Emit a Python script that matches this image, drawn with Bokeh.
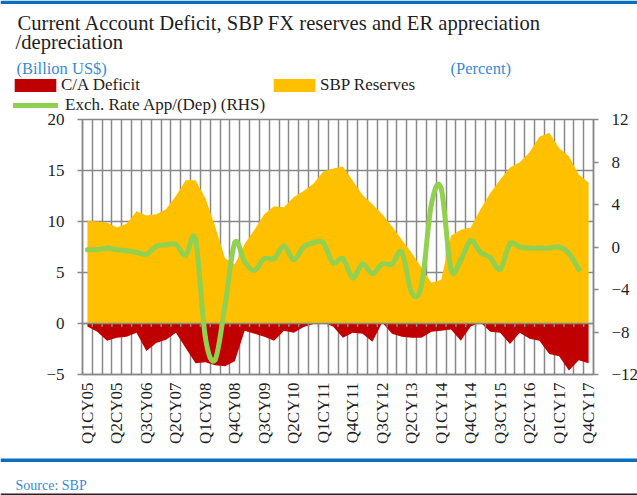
import math
from bokeh.plotting import figure
from bokeh.models import (Range1d, LinearAxis, FixedTicker, Label, Legend, LegendItem,
                          BoxAnnotation, ColumnDataSource, Grid)
from bokeh.embed import file_html
from bokeh.resources import INLINE

# ---------------- data ----------------
tick_labels = ["Q1CY05", "Q2CY05", "Q3CY06", "Q2CY07", "Q1CY08", "Q4CY08", "Q3CY09",
               "Q2CY10", "Q1CY11", "Q4CY11", "Q3CY12", "Q2CY13", "Q1CY14", "Q4CY14",
               "Q3CY15", "Q2CY16", "Q1CY17", "Q4CY17"]
tick_step = 3  # one label every third quarter

sbp_reserves = [10.1, 10.0, 9.9, 9.4, 9.8, 11.0, 10.6, 10.7, 11.2, 12.5,
                14.05, 14.05, 12.3, 9.5, 6.4, 5.8, 7.8, 9.2, 10.7, 11.5,
                11.4, 12.4, 13.0, 13.7, 14.9, 15.2, 15.4, 14.0, 12.6, 11.7,
                10.7, 9.5, 8.2, 6.9, 5.5, 4.0, 4.3, 8.6, 9.2, 9.4,
                11.2, 12.8, 14.1, 15.3, 15.8, 16.8, 18.3, 18.7, 17.2, 16.4,
                14.6, 13.8]

ca_deficit = [-0.3, -0.8, -1.7, -1.4, -1.3, -0.9, -2.7, -1.9, -1.6, -0.9,
              -2.4, -3.9, -3.8, -4.1, -4.2, -3.7, -0.7, -1.0, -1.3, -1.7,
              -0.7, -0.9, -0.35, -0.05, 0.1, -0.3, -1.4, -0.9, -1.0, -1.8,
              0.1, -1.0, -1.3, -1.4, -1.4, -0.8, -0.7, -0.6, -1.7, -0.3,
              0.1, -0.8, -0.9, -2.0, -0.9, -1.5, -1.7, -3.0, -3.2, -4.6,
              -3.6, -3.9]

er_change = [-0.25, -0.25, -0.1, -0.25, -0.35, -0.5, -0.7, 0.05, 0.2, 0.25,
             -0.8, 0.7, -8.5, -10.6, -5.5, 0.4, -1.4, -2.2, -1.1, -1.1,
             0.1, -1.2, 0.0, 0.4, 0.4, -1.5, -1.1, -2.9, -1.6, -2.5,
             -1.6, -1.6, -0.5, -4.3, -3.6, 4.0, 5.5, -2.1, -1.2, 0.6,
             -0.5, -1.0, -2.1, 0.3, 0.0, -0.1, -0.1, -0.1, 0.0, -0.6, -2.1]

left_ticks = [-5, 0, 5, 10, 15, 20]
right_ticks = [-12, -8, -4, 0, 4, 8, 12]

# ---------------- style / layout ----------------
FONT = "Liberation Serif"
GRID = "#888888"
TXT = "#1e1e1e"
BLUE_TXT = "#3a8ad4"
BLUE_LINE = "#0a6fc2"
RED = "#C00000"
YEL = "#FFC000"
GRN = "#92D050"

n = len(sbp_reserves)
W, H = 637, 495
# plot-area box in page pixels
PL, PR, PT, PB = 82, 593, 119, 374
LMIN, LMAX = left_ticks[0], left_ticks[-1]
RMIN, RMAX = right_ticks[0], right_ticks[-1]
XMIN, XMAX = -0.5, n - 0.5

xs_ = (PR - PL) / (XMAX - XMIN)
ly_ = (PB - PT) / (LMAX - LMIN)
ry_ = (PB - PT) / (RMAX - RMIN)

p = figure(width=W, height=H, output_backend="svg", toolbar_location=None, title=None,
           x_axis_location=None, y_axis_location=None, min_border=0,
           x_range=Range1d(XMIN - PL / xs_, XMAX + (W - PR) / xs_),
           y_range=Range1d(LMIN - (H - PB) / ly_, LMAX + PT / ly_))
p.extra_y_ranges = {"right": Range1d(RMIN - (H - PB) / ry_, RMAX + PT / ry_)}
p.outline_line_color = None
p.background_fill_color = "white"
p.border_fill_color = "white"
p.renderers = []
p.center = []

# ---------------- grids ----------------
bnd_all = [i - 0.5 for i in range(n + 1)]
has_cross = "cross_bounds" in Grid.properties()
if has_cross:
    p.add_layout(Grid(dimension=0, ticker=FixedTicker(ticks=bnd_all), bounds=(XMIN, XMAX),
                      cross_bounds=(LMIN, LMAX), grid_line_color=GRID, grid_line_width=1.5))
    p.add_layout(Grid(dimension=1, ticker=FixedTicker(ticks=left_ticks), bounds=(LMIN, LMAX),
                      cross_bounds=(XMIN, XMAX), grid_line_color=GRID, grid_line_width=1.5))
else:
    p.segment(x0=bnd_all, y0=[LMIN] * len(bnd_all), x1=bnd_all, y1=[LMAX] * len(bnd_all),
              line_color=GRID, line_width=1.5)
    p.segment(x0=[XMIN] * len(left_ticks), y0=left_ticks, x1=[XMAX] * len(left_ticks),
              y1=left_ticks, line_color=GRID, line_width=1.5)

# ---------------- axes (fixed at the plot-area edges) ----------------
common = dict(major_tick_in=0, minor_tick_out=0, minor_tick_in=0,
              major_tick_line_color=GRID, major_tick_line_width=1.5,
              axis_line_color=GRID, axis_line_width=1.5,
              major_label_text_font=FONT, major_label_text_font_size="17px",
              major_label_text_color=TXT)

xa = LinearAxis(fixed_location=LMIN, bounds=(XMIN, XMAX),
                ticker=FixedTicker(ticks=[i * tick_step for i in range(len(tick_labels))]),
                major_label_overrides={i * tick_step: t for i, t in enumerate(tick_labels)},
                major_label_orientation=math.pi / 2, major_tick_out=0,
                major_label_standoff=8, **common)
p.add_layout(xa, "below")

ya = LinearAxis(fixed_location=XMIN, bounds=(LMIN, LMAX), ticker=FixedTicker(ticks=left_ticks),
                major_tick_out=5, major_label_standoff=13, **common)
p.add_layout(ya, "left")

ra = LinearAxis(y_range_name="right", fixed_location=XMAX, bounds=(RMIN, RMAX),
                ticker=FixedTicker(ticks=right_ticks), major_tick_out=5,
                major_label_standoff=13, **common)
p.add_layout(ra, "right")

# ---------------- glyphs ----------------
src = ColumnDataSource(dict(x=list(range(n)), ca=ca_deficit, res=sbp_reserves))
r_ca = p.varea(x="x", y1=0, y2="ca", source=src, fill_color=RED)
r_res = p.varea(x="x", y1=0, y2="res", source=src, fill_color=YEL)

# category axis crossing at zero: line + small tick marks at category boundaries
p.segment(x0=[XMIN], y0=[0], x1=[XMAX], y1=[0], line_color=GRID, line_width=1.5)
bnd = [i - 0.5 for i in range(1, n)]
p.segment(x0=bnd, y0=[0] * len(bnd), x1=bnd, y1=[-3.5 / ly_] * len(bnd),
          line_color=GRID, line_width=1.5)

# smoothed exchange-rate line (cubic Bezier through the data points)
m = len(er_change)
ex = list(range(m))
seg = dict(x0=[], y0=[], x1=[], y1=[], cx0=[], cy0=[], cx1=[], cy1=[])
for i in range(m - 1):
    a, b = max(i - 1, 0), min(i + 2, m - 1)
    seg["x0"].append(ex[i]); seg["y0"].append(er_change[i])
    seg["x1"].append(ex[i + 1]); seg["y1"].append(er_change[i + 1])
    seg["cx0"].append(ex[i] + (ex[i + 1] - ex[a]) / 6)
    seg["cy0"].append(er_change[i] + (er_change[i + 1] - er_change[a]) / 6)
    seg["cx1"].append(ex[i + 1] - (ex[b] - ex[i]) / 6)
    seg["cy1"].append(er_change[i + 1] - (er_change[b] - er_change[i]) / 6)
r_er = p.bezier(source=ColumnDataSource(seg), x0="x0", y0="y0", x1="x1", y1="y1",
                cx0="cx0", cy0="cy0", cx1="cx1", cy1="cy1", y_range_name="right",
                line_color=GRN, line_width=5, line_cap="round")

# ---------------- legends (screen px from bottom-left) ----------------
def make_legend(label, rend, top_px, x_px, gw, gh, standoff):
    lg = Legend(items=[LegendItem(label=label, renderers=[rend])],
                location=(x_px, H - top_px - 20),
                orientation="vertical", glyph_width=gw, glyph_height=gh,
                label_height=20, label_standoff=standoff, padding=0, margin=0, spacing=0,
                border_line_color=None, background_fill_alpha=0,
                label_text_font=FONT, label_text_font_size="17px",
                label_text_color=TXT)
    p.add_layout(lg)

make_legend("C/A Deficit", r_ca, 75, 9, 52, 16, 0)
make_legend("SBP Reserves", r_res, 75, 268, 52, 16, 0)
make_legend("Exch. Rate App/(Dep) (RHS)", r_er, 95, 13, 45, 20, 7)

# ---------------- texts ----------------
def lab(text, x, y_from_top, size, color):
    p.add_layout(Label(x=x, y=H - y_from_top, x_units="screen", y_units="screen", text=text,
                       text_font=FONT, text_font_size=size, text_color=color,
                       text_align="left", text_baseline="alphabetic"))

lab("Current Account Deficit, SBP FX reserves and ER appreciation", 17, 22.7, "20.6px", TXT)
lab("/depreciation", 15, 41.5, "20.6px", TXT)
lab("(Billion US$)", 16, 68, "16.5px", BLUE_TXT)
lab("(Percent)", 450, 68, "16.5px", BLUE_TXT)
lab("Source: SBP", 15, 485, "14px", BLUE_TXT)

# decorative rules
def rule(top_from_top, bottom_from_top, color):
    p.add_layout(BoxAnnotation(left=0, right=W, top=H - top_from_top, bottom=H - bottom_from_top,
                               left_units="screen", right_units="screen",
                               top_units="screen", bottom_units="screen",
                               fill_color=color, fill_alpha=1, line_color=None))

rule(0, 3.5, BLUE_LINE)
rule(458, 461.5, BLUE_LINE)
rule(493, 494.5, "#222222")

open("out.html", "w").write(file_html(p, INLINE))
